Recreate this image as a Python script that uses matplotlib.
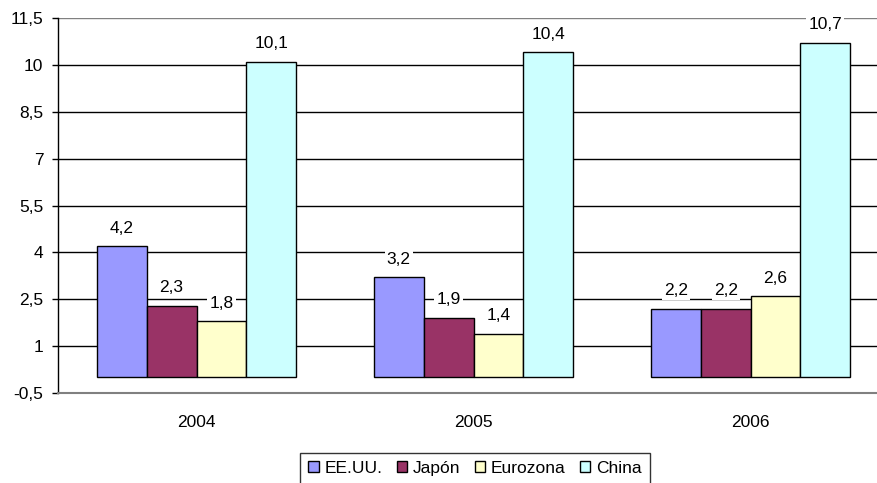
import numpy as np
import matplotlib
matplotlib.use("Agg")
import matplotlib.pyplot as plt

plt.rcParams["font.family"] = ["Liberation Sans", "DejaVu Sans"]

years = ["2004", "2005", "2006"]
series = ["EE.UU.", "Japón", "Eurozona", "China"]
eeuu = [4.2, 3.2, 2.2]
japon = [2.3, 1.9, 2.2]
eurozona = [1.8, 1.4, 2.6]
china = [10.1, 10.4, 10.7]
colors = ["#9999FF", "#993366", "#FFFFCC", "#CCFFFF"]
yticks = [-0.5, 1, 2.5, 4, 5.5, 7, 8.5, 10, 11.5]

FS = 12.5

def fmt(v):
    s = f"{v:g}"
    return s.replace(".", ",")

fig = plt.figure(figsize=(8.78, 4.83), dpi=100)
ax = fig.add_axes([58 / 878, 90 / 483, 1 - 58 / 878, (393 - 18) / 483])

x = np.arange(len(years))
width = 0.18
values = [eeuu, japon, eurozona, china]

# grid lines (top one grey like the original)
for t in yticks[1:-1]:
    ax.axhline(t, color="black", lw=1.0, zorder=1)
ax.axhline(yticks[-1], color="#808080", lw=1.0, zorder=1)

for i, (name, vals, c) in enumerate(zip(series, values, colors)):
    pos = x + (i - 1.5) * width
    ax.bar(pos, vals, width, color=c, edgecolor="black", lw=1.0,
           label=name, zorder=2)
    for p, v in zip(pos, vals):
        ax.annotate(fmt(v), (p, v), xytext=(0, 13), textcoords="offset points",
                    ha="center", va="center", fontsize=FS, zorder=3,
                    bbox=dict(facecolor="white", edgecolor="none", pad=1.5))

ax.set_xlim(-0.5, 2.46)
ax.set_ylim(-0.5, 11.5)
ax.set_yticks(yticks)
ax.set_yticklabels([fmt(t) for t in yticks], fontsize=FS)
ax.set_xticks(x)
ax.set_xticklabels(years, fontsize=FS)
ax.tick_params(axis="x", length=0, pad=16)
ax.tick_params(axis="y", length=4.5, width=1.0, color="black", pad=6)

for s in ["top", "right"]:
    ax.spines[s].set_visible(False)
ax.spines["left"].set_color("black")
ax.spines["left"].set_linewidth(1.0)
ax.spines["bottom"].set_color("#808080")
ax.spines["bottom"].set_linewidth(1.5)

leg = fig.legend(loc="upper center", bbox_to_anchor=(0.541, 1 - 453 / 483),
                 ncol=4, fontsize=FS, frameon=True, fancybox=False,
                 handlelength=0.6, handleheight=0.6, handletextpad=0.35,
                 columnspacing=0.8, borderpad=0.45, borderaxespad=0.0)
leg.get_frame().set_edgecolor("black")
leg.get_frame().set_linewidth(1.0)

fig.savefig("out.png", dpi=100)
